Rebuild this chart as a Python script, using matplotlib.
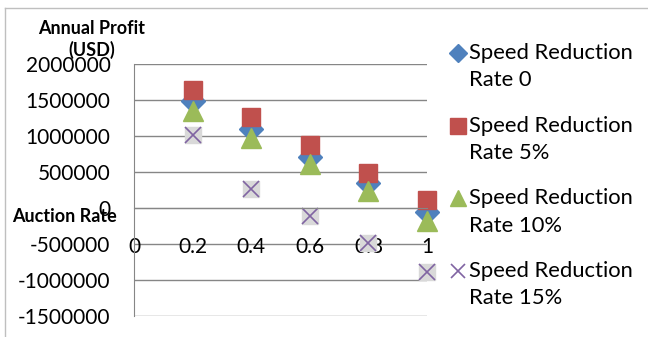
import matplotlib.pyplot as plt
import numpy as np
from matplotlib.lines import Line2D
from matplotlib.legend_handler import HandlerLine2D

# data
auction_rate = [0.2, 0.4, 0.6, 0.8, 1.0]
profit_rate0 = [1480000, 1100000, 713000, 347000, -50000]
profit_rate5 = [1640000, 1260000, 875000, 493000, 111000]
profit_rate10 = [1350000, 970000, 611000, 236000, -180000]
profit_rate15 = [1020000, 265000, -118000, -486000, -890000]
series_labels = ["Speed Reduction\nRate 0", "Speed Reduction\nRate 5%",
                 "Speed Reduction\nRate 10%", "Speed Reduction\nRate 15%"]
x_ticks = [0, 0.2, 0.4, 0.6, 0.8, 1]
y_ticks = [-1500000, -1000000, -500000, 0, 500000, 1000000, 1500000, 2000000]

plt.rcParams["font.family"] = ["Lato", "DejaVu Sans"]
GRID = "#868686"


class FirstLineHandler(HandlerLine2D):
    # put the legend marker next to the first text line, like Excel does
    def create_artists(self, legend, orig_handle, xdescent, ydescent,
                       width, height, fontsize, trans):
        return super().create_artists(legend, orig_handle, xdescent,
                                      ydescent - 20, width, height,
                                      fontsize, trans)


fig = plt.figure(figsize=(6.48, 3.37), dpi=100)
ax = fig.add_axes([134 / 648, 1 - 316 / 337, (427 - 134) / 648, (316 - 64) / 337])

ax.set_xlim(0, 1)
ax.set_ylim(-1500000, 2000000)
ax.set_yticks(y_ticks)
ax.set_yticklabels([str(v) for v in y_ticks])
ax.set_xticks(x_ticks)
ax.set_xticklabels(["0", "0.2", "0.4", "0.6", "0.8", "1"])
for y in y_ticks:
    ax.axhline(y, color=GRID, lw=1, zorder=0)

for s in ["top", "right"]:
    ax.spines[s].set_visible(False)
ax.spines["left"].set_color(GRID)
ax.spines["bottom"].set_position(("data", 0))
ax.spines["bottom"].set_color(GRID)
ax.tick_params(axis="y", length=0, pad=17, labelsize=15)
ax.tick_params(axis="x", length=0, pad=21, labelsize=15)

ms = 13
h0, = ax.plot(auction_rate, profit_rate0, ls="none", marker="D", ms=ms - 1,
              color="#4f81bd", mec="#4f81bd", label=series_labels[0], clip_on=False)
h1, = ax.plot(auction_rate, profit_rate5, ls="none", marker="s", ms=ms,
              color="#c0504d", mec="#c0504d", label=series_labels[1], clip_on=False)
h2, = ax.plot(auction_rate, profit_rate10, ls="none", marker="^", ms=ms + 1,
              color="#9bbb59", mec="#9bbb59", label=series_labels[2], clip_on=False)
ax.plot(auction_rate, profit_rate15, ls="none", marker="s", ms=ms - 1,
        color="#d9d9d9", mec="#d9d9d9", clip_on=False)
h3, = ax.plot(auction_rate, profit_rate15, ls="none", marker="x", ms=ms - 1,
              mew=1.2, color="#8064a2", label=series_labels[3], clip_on=False)

fig.text(92 / 648, 1 - 28 / 337, "Annual Profit", ha="center", va="center",
         fontsize=13, fontweight="bold")
fig.text(92 / 648, 1 - 50 / 337, "(USD)", ha="center", va="center",
         fontsize=13, fontweight="bold")
fig.text(64 / 648, 1 - 217 / 337, "Auction Rate", ha="center", va="center",
         fontsize=13, fontweight="bold")

# legend swatches are smaller than the plot markers
leg_handles = [
    Line2D([], [], ls="none", marker="D", ms=9, color="#4f81bd"),
    Line2D([], [], ls="none", marker="s", ms=11, color="#c0504d"),
    Line2D([], [], ls="none", marker="^", ms=12, color="#9bbb59"),
    Line2D([], [], ls="none", marker="x", ms=10, mew=1.2, color="#8064a2"),
]
leg = fig.legend(leg_handles, [h.get_label() for h in (h0, h1, h2, h3)],
                 loc="upper left", bbox_to_anchor=(449 / 648, 1 - 43 / 337),
                 frameon=False, fontsize=15.8, labelspacing=1.15,
                 handlelength=0.8, handletextpad=0.1, borderaxespad=0,
                 borderpad=0, handler_map={Line2D: FirstLineHandler()})
for t in leg.get_texts():
    t.set_linespacing(1.46)

# chart area border
fig.add_artist(Line2D([5 / 648, 5 / 648], [0, 1 - 8 / 337], color="#bfbfbf", lw=1))
fig.add_artist(Line2D([5 / 648, 1], [1 - 8 / 337, 1 - 8 / 337], color="#bfbfbf", lw=1))

fig.savefig("out.png", dpi=100)
